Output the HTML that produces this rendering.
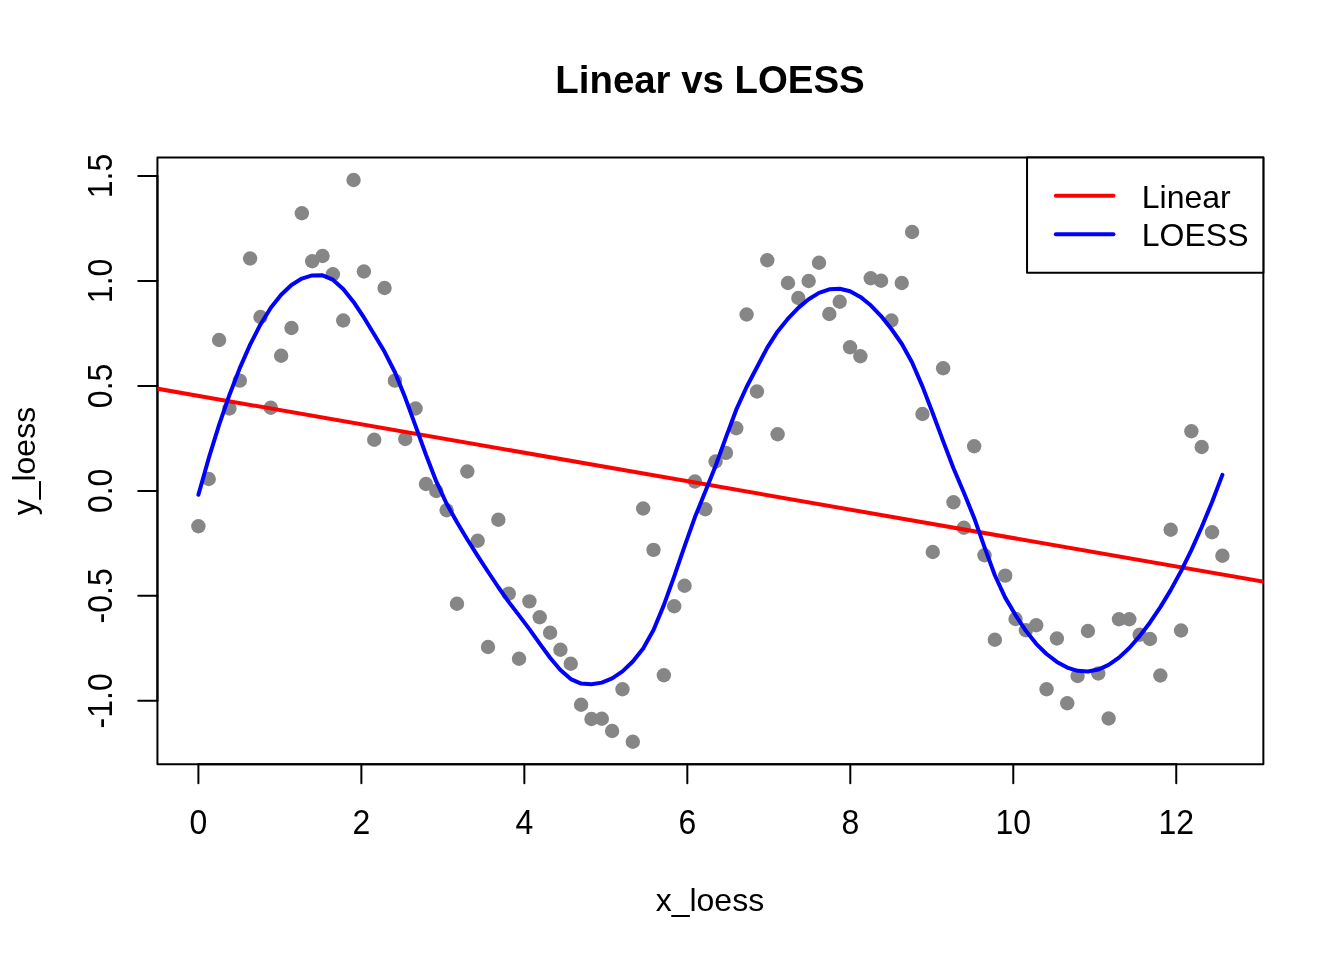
<!DOCTYPE html>
<html lang="en"><head><meta charset="utf-8"><title>Linear vs LOESS</title>
<style>html,body{margin:0;padding:0;background:#fff;width:1344px;height:960px;overflow:hidden}</style>
</head><body>
<svg width="1344" height="960" viewBox="0 0 1344 960" style="display:block;position:absolute;left:0;top:0" font-family='"Liberation Sans", sans-serif' fill="#000">
<rect x="0" y="0" width="1344" height="960" fill="#fff"/>
<defs><clipPath id="pc"><rect x="157.44" y="157.44" width="1105.92" height="606.72"/></clipPath></defs>
<g fill="#868686" clip-path="url(#pc)">
<circle cx="198.40" cy="526.25" r="7.2"/>
<circle cx="208.74" cy="479.00" r="7.2"/>
<circle cx="219.09" cy="340.00" r="7.2"/>
<circle cx="229.43" cy="408.50" r="7.2"/>
<circle cx="239.77" cy="380.65" r="7.2"/>
<circle cx="250.12" cy="258.50" r="7.2"/>
<circle cx="260.46" cy="317.00" r="7.2"/>
<circle cx="270.80" cy="407.75" r="7.2"/>
<circle cx="281.15" cy="355.75" r="7.2"/>
<circle cx="291.49" cy="328.00" r="7.2"/>
<circle cx="301.83" cy="213.25" r="7.2"/>
<circle cx="312.18" cy="261.25" r="7.2"/>
<circle cx="322.52" cy="256.00" r="7.2"/>
<circle cx="332.86" cy="274.25" r="7.2"/>
<circle cx="343.21" cy="320.50" r="7.2"/>
<circle cx="353.55" cy="180.00" r="7.2"/>
<circle cx="363.89" cy="271.50" r="7.2"/>
<circle cx="374.24" cy="439.75" r="7.2"/>
<circle cx="384.58" cy="288.00" r="7.2"/>
<circle cx="394.93" cy="380.65" r="7.2"/>
<circle cx="405.27" cy="439.00" r="7.2"/>
<circle cx="415.61" cy="408.50" r="7.2"/>
<circle cx="425.96" cy="484.00" r="7.2"/>
<circle cx="436.30" cy="491.00" r="7.2"/>
<circle cx="446.64" cy="510.25" r="7.2"/>
<circle cx="456.99" cy="603.75" r="7.2"/>
<circle cx="467.33" cy="471.50" r="7.2"/>
<circle cx="477.67" cy="540.75" r="7.2"/>
<circle cx="488.02" cy="647.00" r="7.2"/>
<circle cx="498.36" cy="519.75" r="7.2"/>
<circle cx="508.70" cy="593.65" r="7.2"/>
<circle cx="519.05" cy="658.75" r="7.2"/>
<circle cx="529.39" cy="601.35" r="7.2"/>
<circle cx="539.73" cy="617.25" r="7.2"/>
<circle cx="550.08" cy="632.75" r="7.2"/>
<circle cx="560.42" cy="649.75" r="7.2"/>
<circle cx="570.76" cy="663.75" r="7.2"/>
<circle cx="581.11" cy="704.75" r="7.2"/>
<circle cx="591.45" cy="719.00" r="7.2"/>
<circle cx="601.79" cy="718.75" r="7.2"/>
<circle cx="612.14" cy="731.00" r="7.2"/>
<circle cx="622.48" cy="689.25" r="7.2"/>
<circle cx="632.82" cy="741.75" r="7.2"/>
<circle cx="643.17" cy="508.50" r="7.2"/>
<circle cx="653.51" cy="549.85" r="7.2"/>
<circle cx="663.85" cy="675.25" r="7.2"/>
<circle cx="674.20" cy="606.25" r="7.2"/>
<circle cx="684.54" cy="585.75" r="7.2"/>
<circle cx="694.88" cy="481.50" r="7.2"/>
<circle cx="705.23" cy="509.25" r="7.2"/>
<circle cx="715.57" cy="461.50" r="7.2"/>
<circle cx="725.92" cy="452.85" r="7.2"/>
<circle cx="736.26" cy="428.25" r="7.2"/>
<circle cx="746.60" cy="314.50" r="7.2"/>
<circle cx="756.95" cy="391.50" r="7.2"/>
<circle cx="767.29" cy="260.25" r="7.2"/>
<circle cx="777.63" cy="434.25" r="7.2"/>
<circle cx="787.98" cy="283.00" r="7.2"/>
<circle cx="798.32" cy="298.00" r="7.2"/>
<circle cx="808.66" cy="281.00" r="7.2"/>
<circle cx="819.01" cy="262.75" r="7.2"/>
<circle cx="829.35" cy="314.00" r="7.2"/>
<circle cx="839.69" cy="301.75" r="7.2"/>
<circle cx="850.04" cy="347.25" r="7.2"/>
<circle cx="860.38" cy="356.25" r="7.2"/>
<circle cx="870.72" cy="278.25" r="7.2"/>
<circle cx="881.07" cy="280.75" r="7.2"/>
<circle cx="891.41" cy="320.50" r="7.2"/>
<circle cx="901.75" cy="283.00" r="7.2"/>
<circle cx="912.10" cy="232.00" r="7.2"/>
<circle cx="922.44" cy="414.00" r="7.2"/>
<circle cx="932.78" cy="552.00" r="7.2"/>
<circle cx="943.13" cy="368.25" r="7.2"/>
<circle cx="953.47" cy="502.25" r="7.2"/>
<circle cx="963.81" cy="527.75" r="7.2"/>
<circle cx="974.16" cy="446.25" r="7.2"/>
<circle cx="984.50" cy="555.25" r="7.2"/>
<circle cx="994.84" cy="639.75" r="7.2"/>
<circle cx="1005.19" cy="575.65" r="7.2"/>
<circle cx="1015.53" cy="619.00" r="7.2"/>
<circle cx="1025.87" cy="630.25" r="7.2"/>
<circle cx="1036.22" cy="625.25" r="7.2"/>
<circle cx="1046.56" cy="689.25" r="7.2"/>
<circle cx="1056.91" cy="638.50" r="7.2"/>
<circle cx="1067.25" cy="703.25" r="7.2"/>
<circle cx="1077.59" cy="676.00" r="7.2"/>
<circle cx="1087.94" cy="631.00" r="7.2"/>
<circle cx="1098.28" cy="673.50" r="7.2"/>
<circle cx="1108.62" cy="718.50" r="7.2"/>
<circle cx="1118.97" cy="619.25" r="7.2"/>
<circle cx="1129.31" cy="619.25" r="7.2"/>
<circle cx="1139.65" cy="634.75" r="7.2"/>
<circle cx="1150.00" cy="639.00" r="7.2"/>
<circle cx="1160.34" cy="675.50" r="7.2"/>
<circle cx="1170.68" cy="529.75" r="7.2"/>
<circle cx="1181.03" cy="630.50" r="7.2"/>
<circle cx="1191.37" cy="431.25" r="7.2"/>
<circle cx="1201.71" cy="447.00" r="7.2"/>
<circle cx="1212.06" cy="532.25" r="7.2"/>
<circle cx="1222.40" cy="555.75" r="7.2"/>
</g>
<rect x="157.44" y="157.44" width="1105.92" height="606.72" fill="none" stroke="#000" stroke-width="2" stroke-linejoin="round"/>
<g stroke="#000" stroke-width="2" fill="none" stroke-linecap="round">
<path d="M198.40 764.16H1176.25"/>
<path d="M198.40 764.16v19.2"/>
<path d="M361.37 764.16v19.2"/>
<path d="M524.35 764.16v19.2"/>
<path d="M687.32 764.16v19.2"/>
<path d="M850.30 764.16v19.2"/>
<path d="M1013.27 764.16v19.2"/>
<path d="M1176.25 764.16v19.2"/>
<path d="M157.44 700.84V175.94"/>
<path d="M157.44 700.84h-19.2"/>
<path d="M157.44 595.86h-19.2"/>
<path d="M157.44 490.88h-19.2"/>
<path d="M157.44 385.90h-19.2"/>
<path d="M157.44 280.92h-19.2"/>
<path d="M157.44 175.94h-19.2"/>
</g>
<g font-size="32" text-anchor="middle">
<text transform="translate(198.40 834.4) scale(1 1.07)">0</text>
<text transform="translate(361.37 834.4) scale(1 1.07)">2</text>
<text transform="translate(524.35 834.4) scale(1 1.07)">4</text>
<text transform="translate(687.32 834.4) scale(1 1.07)">6</text>
<text transform="translate(850.30 834.4) scale(1 1.07)">8</text>
<text transform="translate(1013.27 834.4) scale(1 1.07)">10</text>
<text transform="translate(1176.25 834.4) scale(1 1.07)">12</text>
<text transform="translate(111.8 700.84) rotate(-90) scale(1 1.07)">-1.0</text>
<text transform="translate(111.8 595.86) rotate(-90) scale(1 1.07)">-0.5</text>
<text transform="translate(111.8 490.88) rotate(-90) scale(1 1.07)">0.0</text>
<text transform="translate(111.8 385.90) rotate(-90) scale(1 1.07)">0.5</text>
<text transform="translate(111.8 280.92) rotate(-90) scale(1 1.07)">1.0</text>
<text transform="translate(111.8 175.94) rotate(-90) scale(1 1.07)">1.5</text>
<text x="709.90" y="910.8">x_loess</text>
<text transform="translate(34.8 461.10) rotate(-90)">y_loess</text>
</g>
<text x="710.00" y="93.1" font-size="38.4" font-weight="bold" text-anchor="middle">Linear vs LOESS</text>
<g clip-path="url(#pc)" fill="none" stroke-width="4" stroke-linecap="round" stroke-linejoin="round">
<path stroke="#ff0000" d="M137.44 385.24L1283.36 585.20"/>
<path stroke="#0000ff" d="M198.40 494.75L208.74 458.18L219.09 424.92L229.43 394.91L239.77 368.12L250.12 344.60L260.46 324.45L270.80 307.80L281.15 294.67L291.49 284.96L301.83 278.57L312.18 275.40L322.52 275.36L332.86 279.68L343.21 288.91L353.55 301.89L363.89 317.47L374.24 334.50L384.58 351.83L394.93 372.27L405.27 397.82L415.61 426.11L425.96 454.77L436.30 481.43L446.64 503.73L456.99 522.26L467.33 539.51L477.67 555.87L488.02 571.77L498.36 587.25L508.70 601.89L519.05 615.40L529.39 629.13L539.73 643.70L550.08 657.79L560.42 670.03L570.76 679.08L581.11 683.61L591.45 684.29L601.79 682.61L612.14 678.37L622.48 671.40L632.82 661.51L643.17 648.51L653.51 629.95L663.85 605.11L674.20 576.43L684.54 546.35L694.88 517.32L705.23 491.77L715.57 466.01L725.92 437.33L736.26 409.68L746.60 387.00L756.95 367.21L767.29 347.65L777.63 331.41L787.98 318.72L798.32 307.88L808.66 299.18L819.01 292.90L829.35 289.31L839.69 288.69L850.04 291.27L860.38 296.90L870.72 305.26L881.07 316.05L891.41 328.99L901.75 343.77L912.10 362.54L922.44 386.35L932.78 413.21L943.13 441.16L953.47 468.22L963.81 492.42L974.16 517.94L984.50 547.12L994.84 575.25L1005.19 597.61L1015.53 615.06L1025.87 630.85L1036.22 643.86L1046.56 654.01L1056.91 661.96L1067.25 667.60L1077.59 670.82L1087.94 671.52L1098.28 669.58L1108.62 664.91L1118.97 657.61L1129.31 647.95L1139.65 636.15L1150.00 622.47L1160.34 607.16L1170.68 590.11L1181.03 571.09L1191.37 550.06L1201.71 527.02L1212.06 501.96L1222.40 474.85"/>
</g>
<rect x="1027.04" y="157.44" width="236.32" height="115.20" fill="#fff" stroke="#000" stroke-width="2" stroke-linejoin="round"/>
<g fill="none" stroke-width="4" stroke-linecap="round">
<path stroke="#ff0000" d="M1055.84 195.84H1113.44"/>
<path stroke="#0000ff" d="M1055.84 234.24H1113.44"/>
</g>
<g font-size="32"><text x="1141.8" y="207.7">Linear</text><text x="1141.8" y="246.1">LOESS</text></g>
</svg>
</body></html>
